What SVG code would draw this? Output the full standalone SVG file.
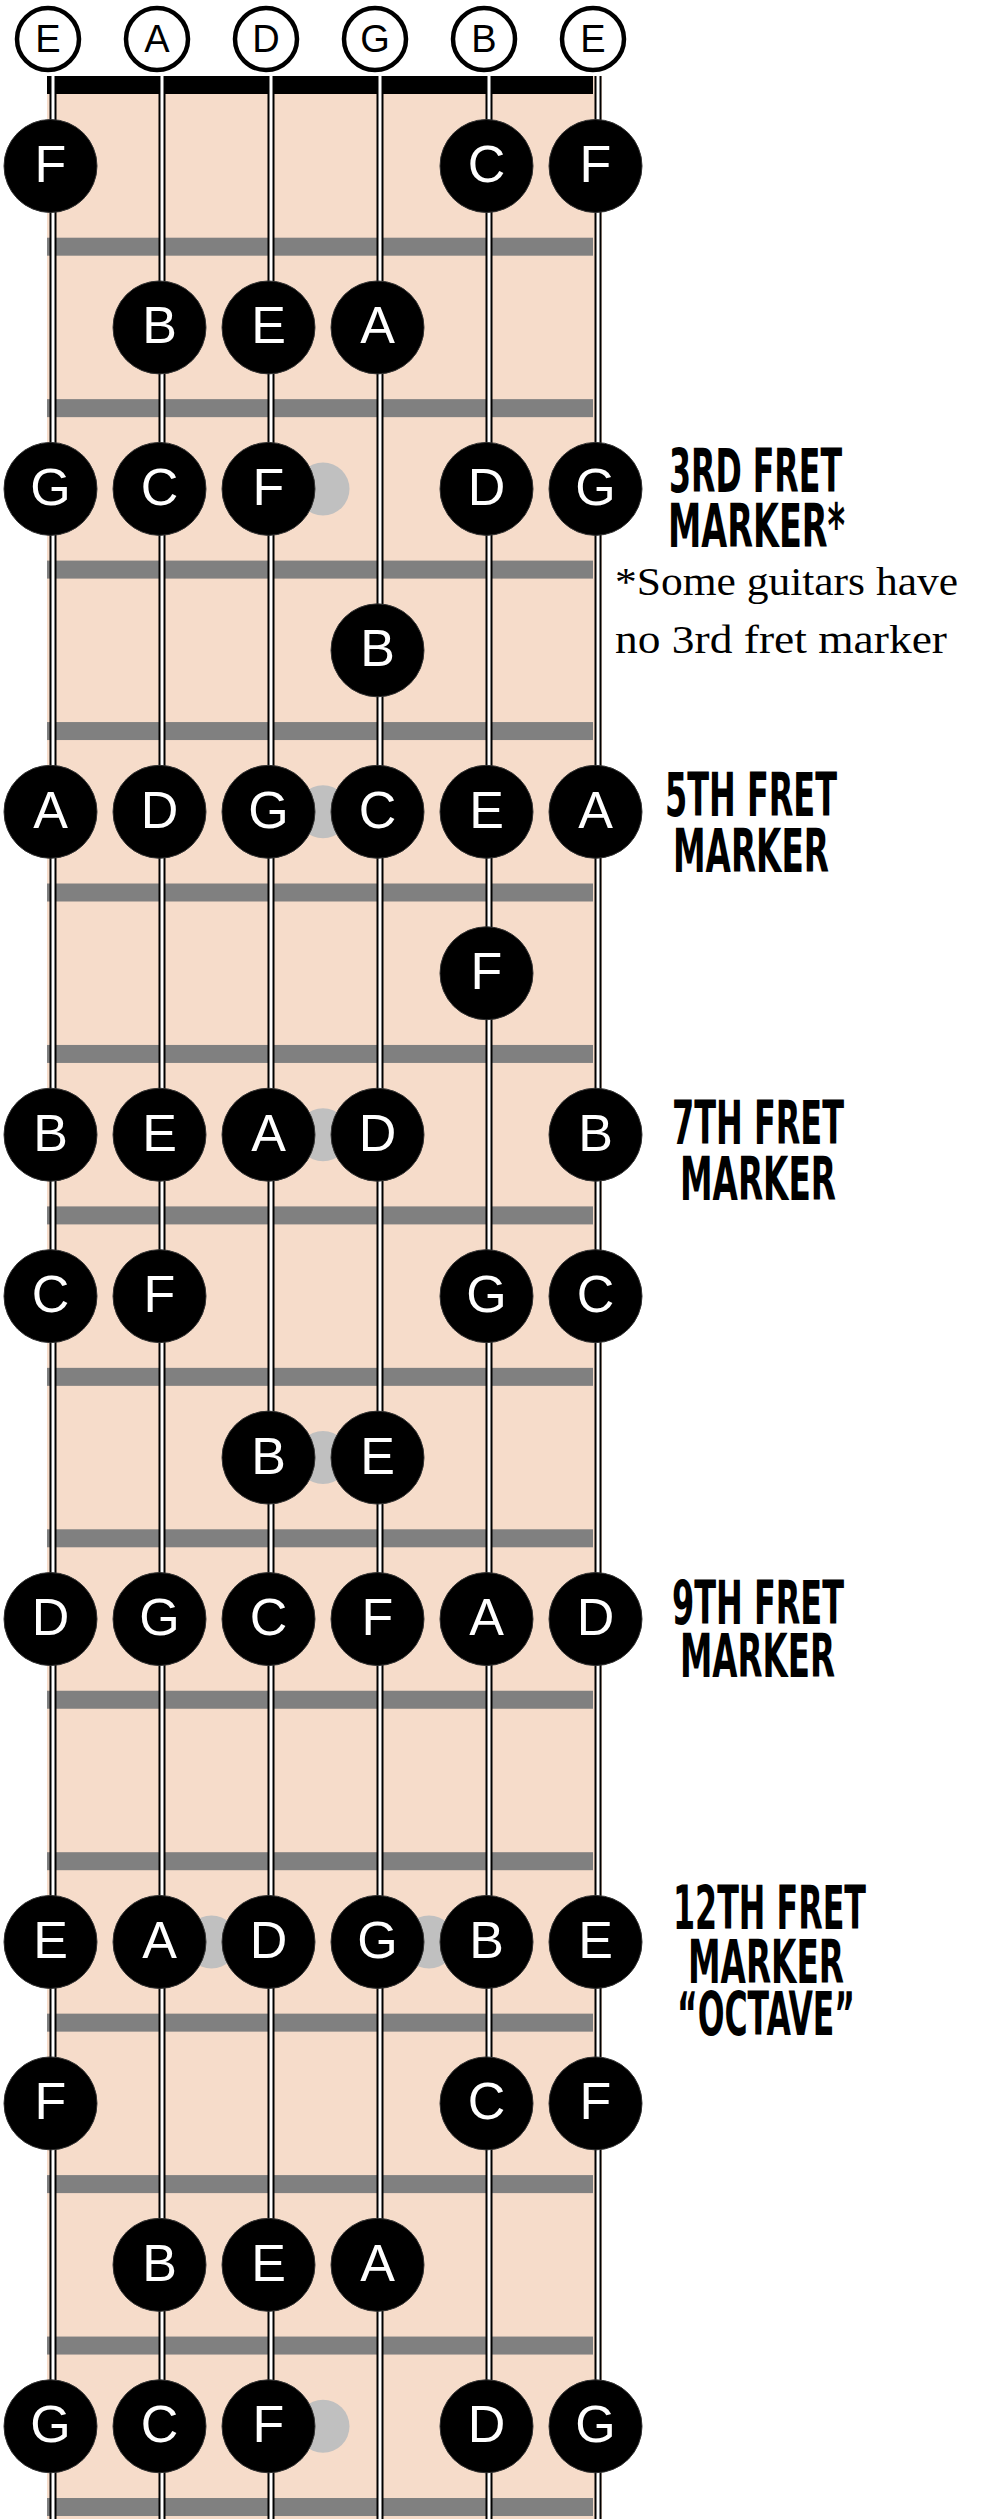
<svg xmlns="http://www.w3.org/2000/svg" width="1000" height="2519" viewBox="0 0 1000 2519">
<style>
.board{fill:#f6dcca}
.fret{fill:#808080}
.dot{fill:#c0c0c0}
.sOut{stroke:#000;stroke-width:7}
.sIn{stroke:#fff;stroke-width:3}
.open circle{fill:#fff;stroke:#000;stroke-width:4.5}
.open text{font-family:"Liberation Sans",Arial,sans-serif;font-size:38px;fill:#000;text-anchor:middle}
.note circle{fill:#000;stroke:#333;stroke-width:1}
.note text{font-family:"Liberation Sans",Arial,sans-serif;font-size:52px;fill:#fff;text-anchor:middle}
.lbl{font-family:"Liberation Sans Narrow","DejaVu Sans Condensed","Liberation Sans",sans-serif;font-weight:bold;font-size:60px;fill:#000}
.note2{font-family:"Liberation Serif","Times New Roman",serif;font-size:41px;fill:#000}
</style>
<rect width="1000" height="2519" fill="#fff"/>
<g id="fretboard">
<rect class="board" x="47" y="76" width="555" height="2443"/>
<rect x="47" y="76" width="546" height="18" fill="#000"/>
<rect class="fret" x="47" y="237.7" width="546" height="18"/>
<rect class="fret" x="47" y="399.15" width="546" height="18"/>
<rect class="fret" x="47" y="560.6" width="546" height="18"/>
<rect class="fret" x="47" y="722.05" width="546" height="18"/>
<rect class="fret" x="47" y="883.5" width="546" height="18"/>
<rect class="fret" x="47" y="1044.95" width="546" height="18"/>
<rect class="fret" x="47" y="1206.4" width="546" height="18"/>
<rect class="fret" x="47" y="1367.85" width="546" height="18"/>
<rect class="fret" x="47" y="1529.3" width="546" height="18"/>
<rect class="fret" x="47" y="1690.75" width="546" height="18"/>
<rect class="fret" x="47" y="1852.2" width="546" height="18"/>
<rect class="fret" x="47" y="2013.65" width="546" height="18"/>
<rect class="fret" x="47" y="2175.1" width="546" height="18"/>
<rect class="fret" x="47" y="2336.55" width="546" height="18"/>
<rect class="fret" x="47" y="2498" width="546" height="18"/>
</g>
<g id="markers">
<circle class="dot" cx="323" cy="488.9" r="26.5"/>
<circle class="dot" cx="323" cy="811.8" r="26.5"/>
<circle class="dot" cx="323" cy="1134.7" r="26.5"/>
<circle class="dot" cx="323" cy="1457.6" r="26.5"/>
<circle class="dot" cx="211.5" cy="1941.95" r="26.5"/>
<circle class="dot" cx="429" cy="1941.95" r="26.5"/>
<circle class="dot" cx="323" cy="2426.3" r="26.5"/>
</g>
<g id="strings">
<line class="sOut" x1="53" y1="76" x2="53" y2="2519"/><line class="sIn" x1="53" y1="76" x2="53" y2="2519"/>
<line class="sOut" x1="162" y1="76" x2="162" y2="2519"/><line class="sIn" x1="162" y1="76" x2="162" y2="2519"/>
<line class="sOut" x1="271" y1="76" x2="271" y2="2519"/><line class="sIn" x1="271" y1="76" x2="271" y2="2519"/>
<line class="sOut" x1="380" y1="76" x2="380" y2="2519"/><line class="sIn" x1="380" y1="76" x2="380" y2="2519"/>
<line class="sOut" x1="489" y1="76" x2="489" y2="2519"/><line class="sIn" x1="489" y1="76" x2="489" y2="2519"/>
<line class="sOut" x1="598" y1="76" x2="598" y2="2519"/><line class="sIn" x1="598" y1="76" x2="598" y2="2519"/>
</g>
<g id="open-strings">
<g id="open-E6" class="open"><circle cx="48" cy="39" r="31"/><text x="48" y="52">E</text></g>
<g id="open-A" class="open"><circle cx="157" cy="39" r="31"/><text x="157" y="52">A</text></g>
<g id="open-D" class="open"><circle cx="266" cy="39" r="31"/><text x="266" y="52">D</text></g>
<g id="open-G" class="open"><circle cx="375" cy="39" r="31"/><text x="375" y="52">G</text></g>
<g id="open-B" class="open"><circle cx="484" cy="39" r="31"/><text x="484" y="52">B</text></g>
<g id="open-E1" class="open"><circle cx="593" cy="39" r="31"/><text x="593" y="52">E</text></g>
</g>
<g id="notes">
<g id="f1-s6" class="note"><circle cx="50.5" cy="166" r="46.5"/><text x="50.5" y="182">F</text></g>
<g id="f1-s2" class="note"><circle cx="486.5" cy="166" r="46.5"/><text x="486.5" y="182">C</text></g>
<g id="f1-s1" class="note"><circle cx="595.5" cy="166" r="46.5"/><text x="595.5" y="182">F</text></g>

<g id="f2-s5" class="note"><circle cx="159.5" cy="327.45" r="46.5"/><text x="159.5" y="343.45">B</text></g>
<g id="f2-s4" class="note"><circle cx="268.5" cy="327.45" r="46.5"/><text x="268.5" y="343.45">E</text></g>
<g id="f2-s3" class="note"><circle cx="377.5" cy="327.45" r="46.5"/><text x="377.5" y="343.45">A</text></g>

<g id="f3-s6" class="note"><circle cx="50.5" cy="488.9" r="46.5"/><text x="50.5" y="504.9">G</text></g>
<g id="f3-s5" class="note"><circle cx="159.5" cy="488.9" r="46.5"/><text x="159.5" y="504.9">C</text></g>
<g id="f3-s4" class="note"><circle cx="268.5" cy="488.9" r="46.5"/><text x="268.5" y="504.9">F</text></g>
<g id="f3-s2" class="note"><circle cx="486.5" cy="488.9" r="46.5"/><text x="486.5" y="504.9">D</text></g>
<g id="f3-s1" class="note"><circle cx="595.5" cy="488.9" r="46.5"/><text x="595.5" y="504.9">G</text></g>

<g id="f4-s3" class="note"><circle cx="377.5" cy="650.35" r="46.5"/><text x="377.5" y="666.35">B</text></g>

<g id="f5-s6" class="note"><circle cx="50.5" cy="811.8" r="46.5"/><text x="50.5" y="827.8">A</text></g>
<g id="f5-s5" class="note"><circle cx="159.5" cy="811.8" r="46.5"/><text x="159.5" y="827.8">D</text></g>
<g id="f5-s4" class="note"><circle cx="268.5" cy="811.8" r="46.5"/><text x="268.5" y="827.8">G</text></g>
<g id="f5-s3" class="note"><circle cx="377.5" cy="811.8" r="46.5"/><text x="377.5" y="827.8">C</text></g>
<g id="f5-s2" class="note"><circle cx="486.5" cy="811.8" r="46.5"/><text x="486.5" y="827.8">E</text></g>
<g id="f5-s1" class="note"><circle cx="595.5" cy="811.8" r="46.5"/><text x="595.5" y="827.8">A</text></g>

<g id="f6-s2" class="note"><circle cx="486.5" cy="973.25" r="46.5"/><text x="486.5" y="989.25">F</text></g>

<g id="f7-s6" class="note"><circle cx="50.5" cy="1134.7" r="46.5"/><text x="50.5" y="1150.7">B</text></g>
<g id="f7-s5" class="note"><circle cx="159.5" cy="1134.7" r="46.5"/><text x="159.5" y="1150.7">E</text></g>
<g id="f7-s4" class="note"><circle cx="268.5" cy="1134.7" r="46.5"/><text x="268.5" y="1150.7">A</text></g>
<g id="f7-s3" class="note"><circle cx="377.5" cy="1134.7" r="46.5"/><text x="377.5" y="1150.7">D</text></g>
<g id="f7-s1" class="note"><circle cx="595.5" cy="1134.7" r="46.5"/><text x="595.5" y="1150.7">B</text></g>

<g id="f8-s6" class="note"><circle cx="50.5" cy="1296.15" r="46.5"/><text x="50.5" y="1312.15">C</text></g>
<g id="f8-s5" class="note"><circle cx="159.5" cy="1296.15" r="46.5"/><text x="159.5" y="1312.15">F</text></g>
<g id="f8-s2" class="note"><circle cx="486.5" cy="1296.15" r="46.5"/><text x="486.5" y="1312.15">G</text></g>
<g id="f8-s1" class="note"><circle cx="595.5" cy="1296.15" r="46.5"/><text x="595.5" y="1312.15">C</text></g>

<g id="f9-s4" class="note"><circle cx="268.5" cy="1457.6" r="46.5"/><text x="268.5" y="1473.6">B</text></g>
<g id="f9-s3" class="note"><circle cx="377.5" cy="1457.6" r="46.5"/><text x="377.5" y="1473.6">E</text></g>

<g id="f10-s6" class="note"><circle cx="50.5" cy="1619.05" r="46.5"/><text x="50.5" y="1635.05">D</text></g>
<g id="f10-s5" class="note"><circle cx="159.5" cy="1619.05" r="46.5"/><text x="159.5" y="1635.05">G</text></g>
<g id="f10-s4" class="note"><circle cx="268.5" cy="1619.05" r="46.5"/><text x="268.5" y="1635.05">C</text></g>
<g id="f10-s3" class="note"><circle cx="377.5" cy="1619.05" r="46.5"/><text x="377.5" y="1635.05">F</text></g>
<g id="f10-s2" class="note"><circle cx="486.5" cy="1619.05" r="46.5"/><text x="486.5" y="1635.05">A</text></g>
<g id="f10-s1" class="note"><circle cx="595.5" cy="1619.05" r="46.5"/><text x="595.5" y="1635.05">D</text></g>

<g id="f12-s6" class="note"><circle cx="50.5" cy="1941.95" r="46.5"/><text x="50.5" y="1957.95">E</text></g>
<g id="f12-s5" class="note"><circle cx="159.5" cy="1941.95" r="46.5"/><text x="159.5" y="1957.95">A</text></g>
<g id="f12-s4" class="note"><circle cx="268.5" cy="1941.95" r="46.5"/><text x="268.5" y="1957.95">D</text></g>
<g id="f12-s3" class="note"><circle cx="377.5" cy="1941.95" r="46.5"/><text x="377.5" y="1957.95">G</text></g>
<g id="f12-s2" class="note"><circle cx="486.5" cy="1941.95" r="46.5"/><text x="486.5" y="1957.95">B</text></g>
<g id="f12-s1" class="note"><circle cx="595.5" cy="1941.95" r="46.5"/><text x="595.5" y="1957.95">E</text></g>

<g id="f13-s6" class="note"><circle cx="50.5" cy="2103.4" r="46.5"/><text x="50.5" y="2119.4">F</text></g>
<g id="f13-s2" class="note"><circle cx="486.5" cy="2103.4" r="46.5"/><text x="486.5" y="2119.4">C</text></g>
<g id="f13-s1" class="note"><circle cx="595.5" cy="2103.4" r="46.5"/><text x="595.5" y="2119.4">F</text></g>

<g id="f14-s5" class="note"><circle cx="159.5" cy="2264.85" r="46.5"/><text x="159.5" y="2280.85">B</text></g>
<g id="f14-s4" class="note"><circle cx="268.5" cy="2264.85" r="46.5"/><text x="268.5" y="2280.85">E</text></g>
<g id="f14-s3" class="note"><circle cx="377.5" cy="2264.85" r="46.5"/><text x="377.5" y="2280.85">A</text></g>

<g id="f15-s6" class="note"><circle cx="50.5" cy="2426.3" r="46.5"/><text x="50.5" y="2442.3">G</text></g>
<g id="f15-s5" class="note"><circle cx="159.5" cy="2426.3" r="46.5"/><text x="159.5" y="2442.3">C</text></g>
<g id="f15-s4" class="note"><circle cx="268.5" cy="2426.3" r="46.5"/><text x="268.5" y="2442.3">F</text></g>
<g id="f15-s2" class="note"><circle cx="486.5" cy="2426.3" r="46.5"/><text x="486.5" y="2442.3">D</text></g>
<g id="f15-s1" class="note"><circle cx="595.5" cy="2426.3" r="46.5"/><text x="595.5" y="2442.3">G</text></g>
</g>
<g id="labels">
<g id="label-3rd">
<text class="lbl" x="669" y="492" textLength="173" lengthAdjust="spacingAndGlyphs">3RD FRET</text>
<text class="lbl" x="668" y="547" textLength="177" lengthAdjust="spacingAndGlyphs">MARKER*</text>
<text class="note2" x="615" y="595" textLength="343" lengthAdjust="spacingAndGlyphs">*Some guitars have</text>
<text class="note2" x="615" y="653" textLength="332" lengthAdjust="spacingAndGlyphs">no 3rd fret marker</text>
</g>
<g id="label-5th">
<text class="lbl" x="665" y="816" textLength="172" lengthAdjust="spacingAndGlyphs">5TH FRET</text>
<text class="lbl" x="673" y="872" textLength="156" lengthAdjust="spacingAndGlyphs">MARKER</text>
</g>
<g id="label-7th">
<text class="lbl" x="672" y="1144" textLength="172" lengthAdjust="spacingAndGlyphs">7TH FRET</text>
<text class="lbl" x="680" y="1200" textLength="156" lengthAdjust="spacingAndGlyphs">MARKER</text>
</g>
<g id="label-9th">
<text class="lbl" x="672" y="1624" textLength="172" lengthAdjust="spacingAndGlyphs">9TH FRET</text>
<text class="lbl" x="680" y="1677" textLength="155" lengthAdjust="spacingAndGlyphs">MARKER</text>
</g>
<g id="label-12th">
<text class="lbl" x="673" y="1929" textLength="193" lengthAdjust="spacingAndGlyphs">12TH FRET</text>
<text class="lbl" x="688" y="1983" textLength="156" lengthAdjust="spacingAndGlyphs">MARKER</text>
<text class="lbl" x="677" y="2035" textLength="178" lengthAdjust="spacingAndGlyphs">“OCTAVE”</text>
</g>
</g>
</svg>
